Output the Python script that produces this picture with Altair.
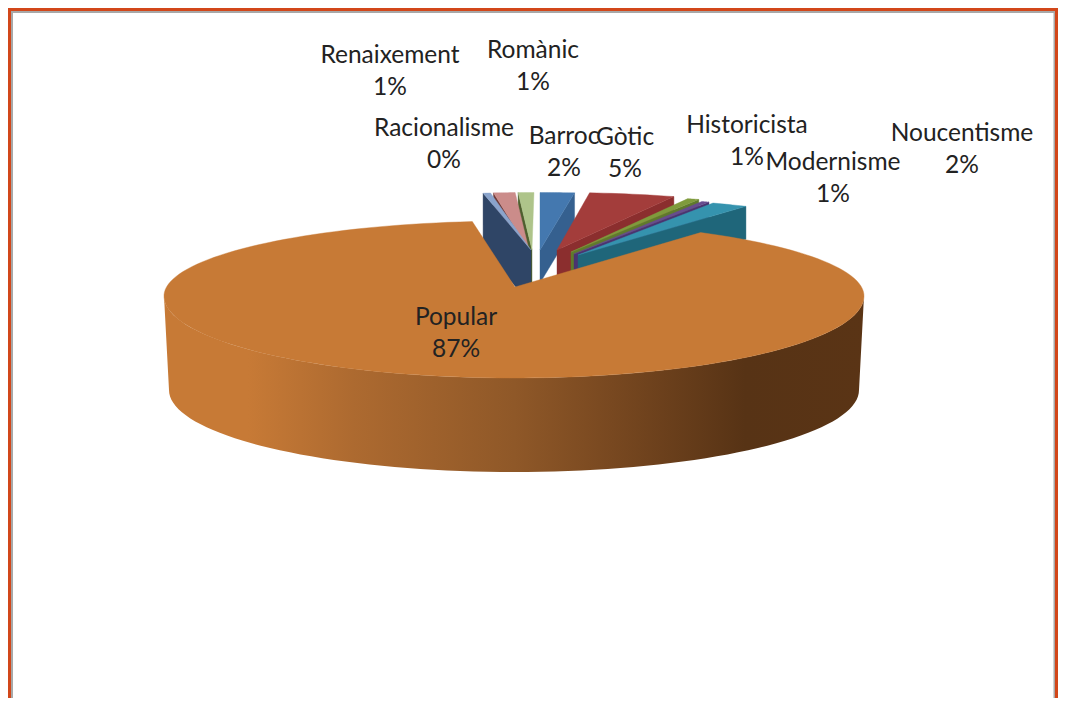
import math
import altair as alt
import pandas as pd

# ---- chart values -------------------------------------------------------
names = ["Barroc", "Gòtic", "Historicista", "Modernisme", "Noucentisme",
         "Popular", "Racionalisme", "Renaixement", "Romànic"]
labels_pct = ["2%", "5%", "1%", "1%", "2%", "87%", "0%", "1%", "1%"]
slice_share = [1.75, 4.4, 0.6, 0.4, 1.9, 89.15, 0.38, 1.1, 0.8]
top_colors = ["#4478AF", "#A33D3B", "#7F9B3C", "#674C8F", "#3593AE",
              "#C77A36", "#8AA4CC", "#CB8C8A", "#AEC48A"]
wall_colors = ["#35608F", "#8B2E2E", "#5F7A2C", "#4A3470", "#1F667A",
               "#C77A36", "#2F4566", "#6E3A38", "#4E5F2E"]

# ---- layout of the exploded 3-D pie -------------------------------------
apex_x = [540, 557, 571, 574, 578, 515, 531, 529, 532]
apex_y = [250, 250, 252, 254, 255, 287, 250, 250, 250]
share_shift = [0, -0.1, -0.1, -0.1, -0.1, -0.1, -0.63, -0.38, -0.38]
wall_depth = [33, 33, 33, 33, 33, 33, 55, 40, 40]
RX, RY = 315, 57.5
POP_CX, POP_CY, POP_RX, POP_RY_BACK, POP_RY_FRONT = 514, 296, 350, 75, 82
WALL_BOTTOM_CY, WALL_BOTTOM_RX = 390, 345
label_x = [564, 625, 747, 833, 962, 456, 444, 390, 533]
label_y = [137, 138, 126, 163, 134, 318, 129, 56, 51]
LINE_GAP = 32

PW, PH = 1050, 690
sx = alt.Scale(domain=[8, 8 + PW], range=[0, PW], nice=False, zero=False)
sy = alt.Scale(domain=[8, 8 + PH], range=[0, PH], nice=False, zero=False)


def rad(p):
    return p * 3.6 * math.pi / 180


def poly(points, fill):
    df = pd.DataFrame({"x": [p[0] for p in points], "y": [p[1] for p in points],
                       "i": list(range(len(points)))})
    return alt.Chart(df).mark_line(fill=fill, stroke="#00000000" if not isinstance(fill, str) else fill,
                                   strokeWidth=0.4, interpolate="linear-closed").encode(
        x=alt.X("x:Q", scale=sx, axis=None),
        y=alt.Y("y:Q", scale=sy, axis=None),
        order="i:Q",
    )


starts = []
c = 0.0
for v in slice_share:
    starts.append(c)
    c += v


def back_slice(k):
    a, b = starts[k] + share_shift[k], starts[k] + slice_share[k] + share_shift[k]
    ax, ay = apex_x[k], apex_y[k]
    rim = []
    for j in range(13):
        t = rad(a + (b - a) * j / 12)
        rim.append((ax + RX * math.sin(t), ay - RY * math.cos(t)))
    top = [(ax, ay)] + rim
    edge = rim[-1] if k < 5 else rim[0]
    d = wall_depth[k]
    wall = [(ax, ay), edge, (edge[0], edge[1] + d), (ax, ay + d)]
    return [poly(wall, wall_colors[k]), poly(top, top_colors[k])]


layers = []
# frame
RIGHT = 1056.5
frame_h = pd.DataFrame({"x": [8], "x2": [RIGHT + 1], "y": [9.5]})
frame_v = pd.DataFrame({"x": [9.5, RIGHT], "y": [8, 8], "y2": [8 + PH, 8 + PH]})
gray_h = pd.DataFrame({"x": [11], "x2": [RIGHT - 2], "y": [12]})
gray_v = pd.DataFrame({"x": [12, RIGHT - 2], "y": [11, 11], "y2": [8 + PH, 8 + PH]})
for d, col, w in [(gray_h, "#A8A8A8", 2), (gray_v, "#A8A8A8", 2), (frame_h, "#D2471A", 3), (frame_v, "#D2471A", 3)]:
    if "x2" in d:
        layers.append(alt.Chart(d).mark_rule(color=col, strokeWidth=w).encode(
            x=alt.X("x:Q", scale=sx, axis=None), x2="x2:Q", y=alt.Y("y:Q", scale=sy, axis=None)))
    else:
        layers.append(alt.Chart(d).mark_rule(color=col, strokeWidth=w).encode(
            x=alt.X("x:Q", scale=sx, axis=None), y=alt.Y("y:Q", scale=sy, axis=None), y2="y2:Q"))

# back slices, in painting order
for k in [0, 1, 2, 3, 4, 8, 7, 6]:
    layers += back_slice(k)

# Popular: front wall with a left-to-right shading, then the top face
N = 80
top_rim = [(POP_CX + POP_RX * math.cos(math.pi * (1 - j / N)),
            POP_CY + POP_RY_FRONT * math.sin(math.pi * (1 - j / N))) for j in range(N + 1)]
bot_rim = [(POP_CX + WALL_BOTTOM_RX * math.cos(math.pi * j / N),
            WALL_BOTTOM_CY + POP_RY_FRONT * math.sin(math.pi * j / N)) for j in range(N + 1)]
grad = alt.LinearGradient(gradient="linear", x1=0, x2=1, y1=0, y2=0, stops=[
    alt.GradientStop(color="#C77A36", offset=0.0),
    alt.GradientStop(color="#C77A36", offset=0.12),
    alt.GradientStop(color="#AD6A30", offset=0.27),
    alt.GradientStop(color="#8F5828", offset=0.50),
    alt.GradientStop(color="#784820", offset=0.64),
    alt.GradientStop(color="#573315", offset=0.83),
    alt.GradientStop(color="#5A3415", offset=1.0),
])
layers.append(poly(top_rim + bot_rim, grad))

k = 5
a, b = starts[k] + share_shift[k], starts[k] + slice_share[k] + share_shift[k]
pop_rim = []
for j in range(161):
    t = rad(a + (b - a) * j / 160)
    ry = POP_RY_BACK if math.cos(t) > 0 else POP_RY_FRONT
    pop_rim.append((POP_CX + POP_RX * math.sin(t), POP_CY - ry * math.cos(t)))
layers.append(poly([(apex_x[k], apex_y[k])] + pop_rim, top_colors[k]))

# labels
lab = pd.DataFrame({"x": label_x, "y": label_y, "name": names, "pct": labels_pct})
lab["y2"] = lab["y"] + LINE_GAP
base = alt.Chart(lab).mark_text(font="Lato", fontSize=24.5, color="#222222", align="center", baseline="middle")
layers.append(base.encode(x=alt.X("x:Q", scale=sx, axis=None), y=alt.Y("y:Q", scale=sy, axis=None), text="name:N"))
layers.append(base.encode(x=alt.X("x:Q", scale=sx, axis=None), y=alt.Y("y2:Q", scale=sy, axis=None), text="pct:N"))

chart = alt.layer(*layers).properties(
    width=PW, height=PH, padding=0, background="#FFFFFF",
    autosize=alt.AutoSizeParams(type="none"),
).configure_view(stroke=None)

chart.save("out.html", embed_options={"renderer": "svg", "actions": False})
